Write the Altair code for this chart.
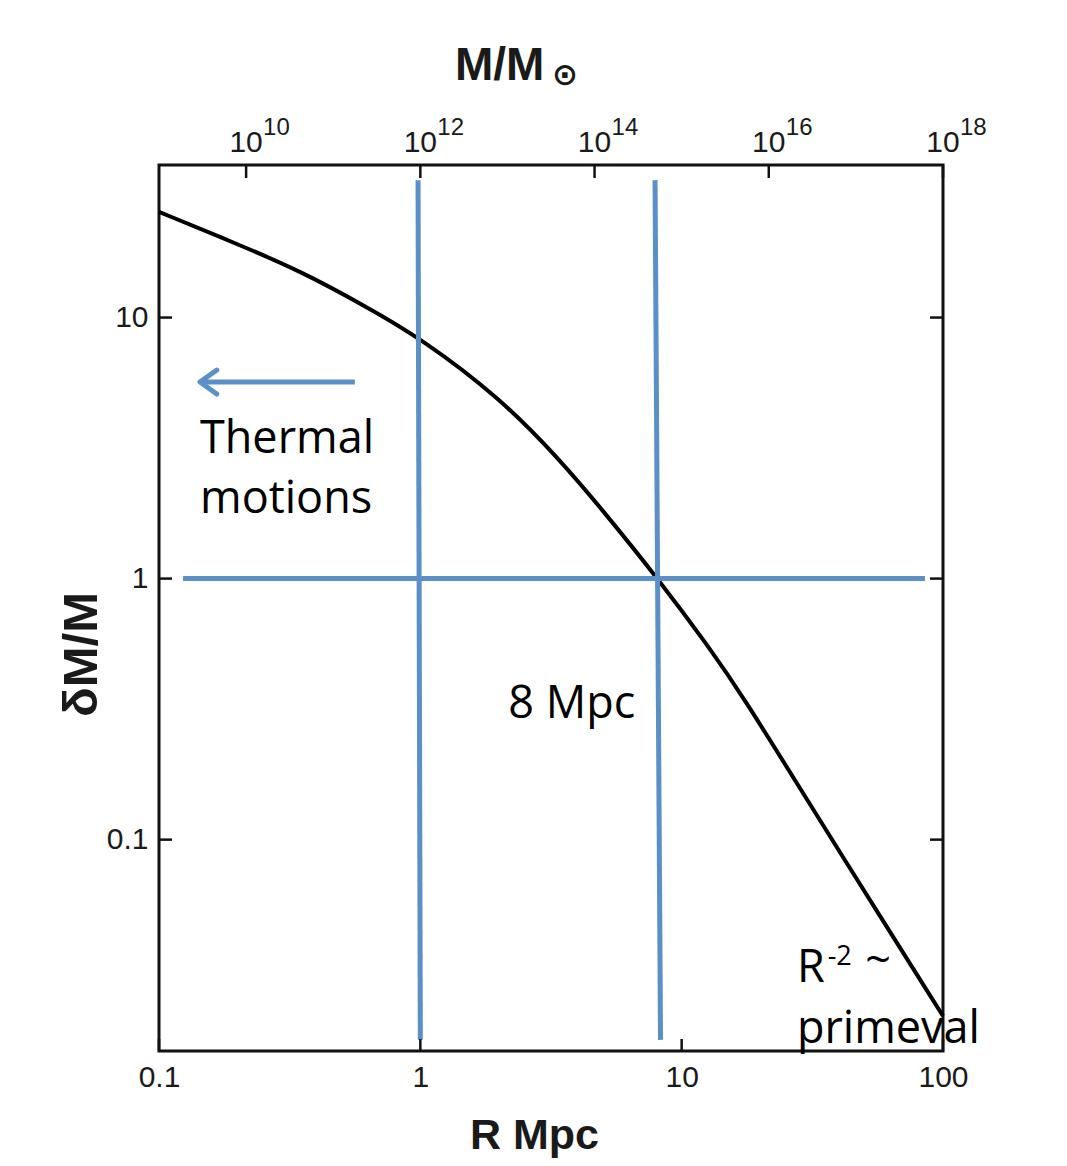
import altair as alt
import pandas as pd

# ---- data ----
R_curve = [0.1, 0.2, 0.3465, 0.625, 1.0, 2.02, 3.42, 4.87, 8.05, 12.8, 17.2, 29.7, 57.4, 100]
dM_curve = [25.4, 19.1, 15.1, 10.97, 8.35, 4.92, 2.85, 1.88, 1.01, 0.542, 0.352, 0.146, 0.0509, 0.0211]

x_ticks = [0.1, 1, 10, 100]
y_ticks = [0.1, 1, 10]
mass_exponents = [10, 12, 14, 16, 18]   # top axis, M/Msun = 1e12 * R^3

# blue guide lines (x, x2, y, y2)
guide_x = [0.98, 7.91, 0.1236]
guide_x2 = [1.0, 8.3, 85.3]
guide_y = [33.6, 33.6, 1.0]
guide_y2 = [0.0171, 0.0171, 1.0]

# arrow (Thermal motions)
arrow_tip_R = 0.1435
arrow_tail_R = 0.562
arrow_d = 5.66

# annotation texts
big_text = ["Thermal", "motions", "8 Mpc", "R", "~", "primeval"]
big_R = [0.1435, 0.1435, 2.17, 27.6, 50.4, 27.6]
big_d = [3.03, 1.78, 0.292, 0.0284, 0.0303, 0.0166]
sup_text = ["-2"]
sup_R = [36.2]
sup_d = [0.0331]

W, H = 784, 886
BLUE = "#5A8FC8"
AX_FONT = "Liberation Sans"
ANN_FONT = "Open Sans"
AX_COL = "#1a1a1a"

xs = alt.Scale(type="log", domain=[0.1, 100], nice=False)
ys = alt.Scale(type="log", domain=[0.0155, 38.4], nice=False)

x_axis = alt.Axis(
    values=x_ticks, format="~g", tickSize=0, domain=False, grid=False,
    labelFont=AX_FONT, labelFontSize=30, labelColor=AX_COL, labelPadding=11,
    labelFlush=False, labelOverlap=False,
    title="R  Mpc", titleFont=AX_FONT, titleFontSize=43, titleFontWeight="bold",
    titleColor=AX_COL, titleX=375, titleY=97, titleBaseline="alphabetic",
    titleAlign="center")
y_axis = alt.Axis(
    values=y_ticks, format="~g", tickSize=0, domain=False, grid=False,
    labelFont=AX_FONT, labelFontSize=30, labelColor=AX_COL, labelPadding=11,
    labelFlush=False, labelOverlap=False,
    title="δM/M", titleFont=AX_FONT, titleFontSize=49, titleFontWeight="bold",
    titleColor=AX_COL, titleX=-63, titleY=489, titleAngle=270,
    titleBaseline="alphabetic", titleAlign="center")


def X(f):
    return alt.X(f, scale=xs, axis=x_axis)


def Y(f):
    return alt.Y(f, scale=ys, axis=y_axis)


curve_df = pd.DataFrame({"R": R_curve, "d": dM_curve})
curve = alt.Chart(curve_df).mark_line(
    color="black", strokeWidth=4, interpolate="basis", clip=False
).encode(x=X("R:Q"), y=Y("d:Q"))

# inward ticks
bt = alt.Chart(pd.DataFrame({"R": x_ticks})).mark_rule(color="#111", strokeWidth=2.5).encode(
    x=X("R:Q"), y=alt.value(H), y2=alt.value(H - 12))
lt = alt.Chart(pd.DataFrame({"d": y_ticks})).mark_rule(color="#111", strokeWidth=2.5).encode(
    y=Y("d:Q"), x=alt.value(0), x2=alt.value(13))
rt = alt.Chart(pd.DataFrame({"d": y_ticks})).mark_rule(color="#111", strokeWidth=2.5).encode(
    y=Y("d:Q"), x=alt.value(W), x2=alt.value(W - 13))

top_df = pd.DataFrame({
    "R": [10 ** ((e - 12) / 3) for e in mass_exponents],
    "base": ["10"] * len(mass_exponents),
    "exp": [str(e) for e in mass_exponents],
})
tt = alt.Chart(top_df).mark_rule(color="#111", strokeWidth=2.5).encode(
    x=X("R:Q"), y=alt.value(0), y2=alt.value(13))
top_base = alt.Chart(top_df).mark_text(
    font=AX_FONT, fontSize=30, color=AX_COL, align="center", baseline="alphabetic"
).encode(x=X("R:Q"), y=alt.value(-13), text="base:N")
top_exp = alt.Chart(top_df).mark_text(
    font=AX_FONT, fontSize=24, color=AX_COL, align="left", baseline="alphabetic", dx=17
).encode(x=X("R:Q"), y=alt.value(-30), text="exp:N")

top_title = alt.Chart(pd.DataFrame({"t": ["M/M"]})).mark_text(
    font=AX_FONT, fontSize=46, fontWeight="bold", color=AX_COL, align="left",
    baseline="alphabetic"
).encode(x=alt.value(296), y=alt.value(-85), text="t:N")
top_sun = alt.Chart(pd.DataFrame({"t": ["⊙"]})).mark_text(
    font="DejaVu Sans", fontSize=31, fontWeight="bold", color=AX_COL, align="left",
    baseline="alphabetic"
).encode(x=alt.value(393), y=alt.value(-80), text="t:N")

# blue guides
guides = alt.Chart(pd.DataFrame({"x": guide_x, "x2": guide_x2, "y": guide_y, "y2": guide_y2})).mark_rule(
    color=BLUE, strokeWidth=5
).encode(x=X("x:Q"), x2="x2:Q", y=Y("y:Q"), y2="y2:Q")

arrow_shaft = alt.Chart(pd.DataFrame({"x": [arrow_tip_R * 1.02], "x2": [arrow_tail_R], "y": [arrow_d]})).mark_rule(
    color=BLUE, strokeWidth=5
).encode(x=X("x:Q"), x2="x2:Q", y=Y("y:Q"))
arrow_head = alt.Chart(pd.DataFrame({"x": [arrow_tip_R], "y": [arrow_d]})).mark_point(
    shape="M1.4,-1L0,0L1.4,1", size=576, filled=False, stroke=BLUE, strokeWidth=5,
    opacity=1, strokeCap="round", strokeJoin="round"
).encode(x=X("x:Q"), y=Y("y:Q"))

ann = alt.Chart(pd.DataFrame({"R": big_R, "d": big_d, "t": big_text})).mark_text(
    font=ANN_FONT, fontSize=45, color="black", align="left", baseline="alphabetic"
).encode(x=X("R:Q"), y=Y("d:Q"), text="t:N")
sup = alt.Chart(pd.DataFrame({"R": sup_R, "d": sup_d, "t": sup_text})).mark_text(
    font=ANN_FONT, fontSize=27, color="black", align="left", baseline="alphabetic"
).encode(x=X("R:Q"), y=Y("d:Q"), text="t:N")

chart = alt.layer(
    curve, guides, bt, lt, rt, tt, top_base, top_exp, top_title, top_sun,
    arrow_shaft, arrow_head, ann, sup
).properties(
    width=W, height=H,
    padding={"left": 151, "top": 157, "right": 116, "bottom": 107},
    autosize=alt.AutoSizeParams(type="none"),
    background="white",
).configure_view(stroke="#111", strokeWidth=3)

chart.save("out.html", embed_options={"renderer": "svg", "actions": False})
